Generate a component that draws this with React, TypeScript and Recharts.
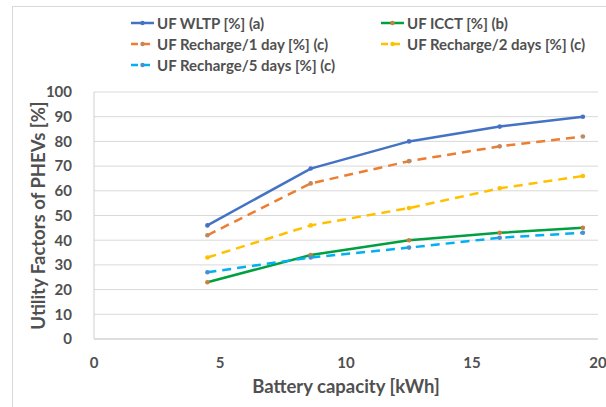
import { CartesianGrid, Label, Legend, Line, LineChart, XAxis, YAxis } from 'recharts'

const capacity = [4.5, 8.6, 12.5, 16.1, 19.4]
const ufWltp = [46, 69, 80, 86, 90]
const ufIcct = [23, 34, 40, 43, 45]
const ufRecharge1 = [42, 63, 72, 78, 82]
const ufRecharge2 = [33, 46, 53, 61, 66]
const ufRecharge5 = [27, 33, 37, 41, 43]
const xTicks = [0, 5, 10, 15, 20]
const yTicks = [0, 10, 20, 30, 40, 50, 60, 70, 80, 90, 100]

const chartData = capacity.map((c, i) => ({
  c,
  wltp: ufWltp[i],
  icct: ufIcct[i],
  r1: ufRecharge1[i],
  r2: ufRecharge2[i],
  r5: ufRecharge5[i],
}))

const series = [
  { key: 'wltp', name: 'UF WLTP [%] (a)', color: '#4472C4', dot: '#4472C4', dash: undefined },
  { key: 'icct', name: 'UF ICCT [%] (b)', color: '#00A040', dot: '#C8813A', dash: undefined },
  { key: 'r1', name: 'UF Recharge/1 day [%] (c)', color: '#ED7D31', dot: '#C08860', dash: '9 6' },
  { key: 'r2', name: 'UF Recharge/2 days [%] (c)', color: '#FFC000', dot: '#FFC000', dash: '9 6' },
  { key: 'r5', name: 'UF Recharge/5 days [%] (c)', color: '#00B0F0', dot: '#4A8FD0', dash: '9 6' },
]

const FONT = 'Lato, "Open Sans", sans-serif'
const GREY = '#505050'

const LegendBox = () => (
  <div style={{ position: 'absolute', left: 131, top: 14, width: 470, display: 'grid', gridTemplateColumns: '250px 220px', rowGap: 4, fontFamily: FONT, fontWeight: 700, fontSize: 15, color: GREY }}>
    {series.map((s) => (
      <div key={s.key} style={{ display: 'flex', alignItems: 'center', height: 17, whiteSpace: 'nowrap' }}>
        <svg width={24} height={10} style={{ marginRight: 2 }}>
          <line x1={0} y1={5} x2={23} y2={5} stroke={s.color} strokeWidth={2.5} strokeDasharray={s.dash ? '7 5' : undefined} />
          <circle cx={11.5} cy={5} r={2.2} fill={s.dot} />
        </svg>
        <span>{s.name}</span>
      </div>
    ))}
  </div>
)

export default function App() {
  return (
    <div style={{ position: 'absolute', left: 0, top: 0, width: 606, height: 407, background: '#fff', overflow: 'hidden' }}>
      <div style={{ position: 'absolute', left: 12, top: 6, width: 640, height: 440, borderLeft: '1px solid #d9d9d9', borderTop: '1px solid #d9d9d9' }} />
      <LineChart width={606} height={407} data={chartData} margin={{ top: 92, right: 8, left: 0, bottom: 8 }}>
        <CartesianGrid stroke="#d9d9d9" vertical={false} />
        <XAxis
          dataKey="c"
          type="number"
          domain={[0, 20]}
          ticks={xTicks}
          height={60}
          stroke="#d0d0d0"
          tickLine={false}
          tickMargin={12}
          tick={{ fill: GREY, fontFamily: FONT, fontWeight: 700, fontSize: 15 }}
        >
          <Label value="Battery capacity [kWh]" position="insideBottom" offset={6} style={{ fill: GREY, fontFamily: FONT, fontWeight: 700, fontSize: 18.5 }} />
        </XAxis>
        <YAxis
          type="number"
          domain={[0, 100]}
          ticks={yTicks}
          width={94}
          stroke="#d0d0d0"
          tickLine={false}
          tickMargin={16}
          tick={{ fill: GREY, fontFamily: FONT, fontWeight: 700, fontSize: 15 }}
        >
          <Label value="Utility Factors of PHEVs [%]" angle={-90} position="insideLeft" offset={38} style={{ fill: GREY, fontFamily: FONT, fontWeight: 700, fontSize: 18.5, textAnchor: 'middle' }} />
        </YAxis>
        <Legend content={() => null} />
        {series.map((s) => (
          <Line
            key={s.key}
            dataKey={s.key}
            name={s.name}
            type="linear"
            stroke={s.color}
            strokeWidth={2.5}
            strokeDasharray={s.dash}
            dot={{ r: 2.3, fill: s.dot, stroke: s.dot, strokeWidth: 0 }}
            isAnimationActive={false}
          />
        ))}
      </LineChart>
      <LegendBox />
    </div>
  )
}
